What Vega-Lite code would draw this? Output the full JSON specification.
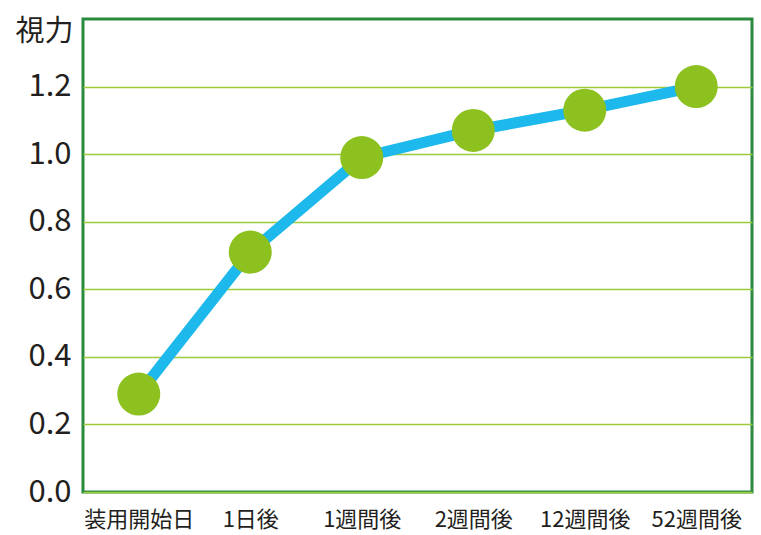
{
  "$schema": "https://vega.github.io/schema/vega-lite/v6.json",
  "autosize": {"type": "none"},
  "width": 669,
  "height": 473,
  "padding": {"left": 83, "top": 19, "right": 9, "bottom": 43},
  "background": "white",
  "config": {
    "view": {"stroke": "#2b8a3e", "strokeWidth": 3},
    "font": "Noto Sans CJK JP"
  },
  "data": {
    "values": [
      {"period": "装用開始日", "acuity": 0.29},
      {"period": "1日後", "acuity": 0.71},
      {"period": "1週間後", "acuity": 0.99},
      {"period": "2週間後", "acuity": 1.07},
      {"period": "12週間後", "acuity": 1.13},
      {"period": "52週間後", "acuity": 1.2}
    ]
  },
  "encoding": {
    "x": {
      "field": "period",
      "type": "ordinal",
      "sort": null,
      "scale": {"type": "point", "padding": 0.5},
      "axis": {
        "title": null,
        "labelAngle": 0,
        "labelFontSize": 22,
        "labelColor": "#231f20",
        "labelPadding": 17,
        "ticks": false,
        "domain": false,
        "grid": false
      }
    },
    "y": {
      "field": "acuity",
      "type": "quantitative",
      "scale": {"domain": [0, 1.4], "nice": false},
      "axis": {
        "title": "視力",
        "titleAngle": 0,
        "titleAlign": "right",
        "titleBaseline": "middle",
        "titleX": -10,
        "titleY": 12,
        "titleFontSize": 29,
        "titleFontWeight": "normal",
        "titleColor": "#231f20",
        "values": [0, 0.2, 0.4, 0.6, 0.8, 1.0, 1.2],
        "format": ".1f",
        "labelFontSize": 31,
        "labelColor": "#231f20",
        "labelPadding": 12,
        "ticks": false,
        "domain": false,
        "grid": true,
        "gridColor": "#9dcb3a",
        "gridWidth": 1.5
      }
    }
  },
  "layer": [
    {
      "mark": {"type": "line", "color": "#1db8ec", "strokeWidth": 11}
    },
    {
      "mark": {"type": "point", "shape": "circle", "filled": true, "size": 1850, "color": "#8cc11f", "opacity": 1}
    }
  ]
}
